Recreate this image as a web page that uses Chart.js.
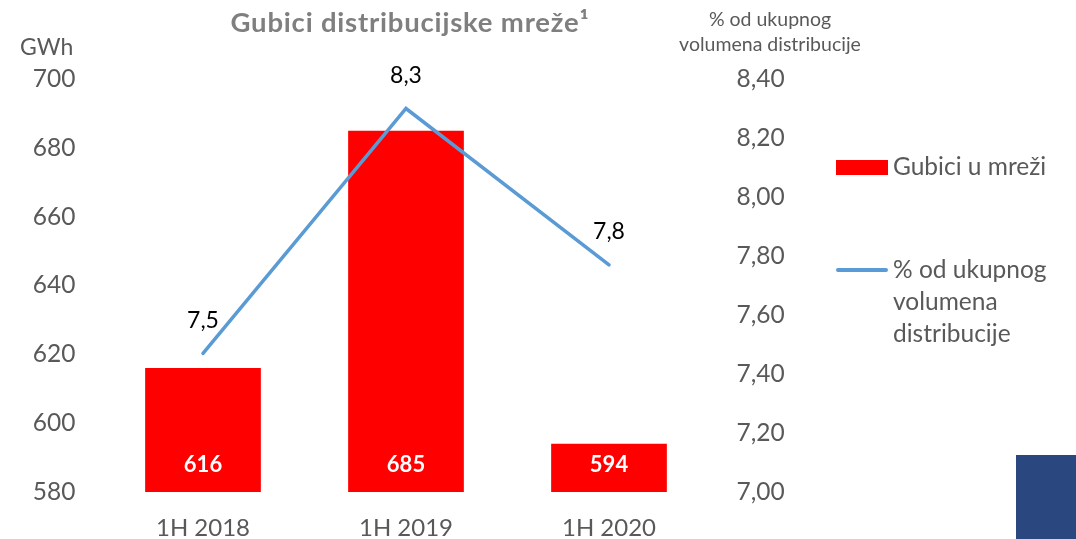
<!DOCTYPE html>
<html>
<head>
<meta charset="utf-8">
<script src="https://cdn.jsdelivr.net/npm/chart.js@4"></script>
<style>
  html, body { margin:0; padding:0; background:#fff; }
  #wrap { position:relative; width:1076px; height:539px; overflow:hidden; font-family: Lato, "Open Sans", sans-serif; }
  #c { position:absolute; left:0; top:0; }
  .t { position:absolute; white-space:nowrap; color:#595959; }
  #title { left:0; width:820px; top:5px; text-align:center; font-weight:bold; font-size:27.5px; letter-spacing:0.8px; color:#7f7f7f; }
  #gwh { left:20px; top:32px; font-size:23px; }
  #rtitle { left:660px; width:220px; top:6px; text-align:center; font-size:19.5px; line-height:25px; }
  #legend { position:absolute; left:836px; top:150px; font-size:24.5px; color:#595959; }
  .li { position:relative; padding-left:57px; line-height:32px; }
  .sw { position:absolute; left:0; }
  #deco { position:absolute; left:1016px; top:455px; width:60px; height:84px; background:#2a4780; }
</style>
</head>
<body>
<div id="wrap">
  <canvas id="c" width="1076" height="539"></canvas>
  <div class="t" id="title">Gubici distribucijske mreže¹</div>
  <div class="t" id="gwh">GWh</div>
  <div class="t" id="rtitle">% od ukupnog<br>volumena distribucije</div>
  <div id="legend">
    <div class="li" style="height:32px;"><span class="sw" style="top:10px;width:52px;height:15px;background:#ff0000;"></span>Gubici u mreži</div>
    <div class="li" style="margin-top:71px;"><span class="sw" style="top:15px;width:52px;height:4px;border-radius:2px;background:#5b9bd5;"></span>% od ukupnog<br>volumena<br>distribucije</div>
  </div>
  <div id="deco"></div>
</div>
<script>
const categories = ["1H 2018", "1H 2019", "1H 2020"];
const lossesGWh = [616, 685, 594];
const lossPercent = [7.47, 8.30, 7.77];
const leftTicks = [580, 600, 620, 640, 660, 680, 700];
const rightTicks = [7.0, 7.2, 7.4, 7.6, 7.8, 8.0, 8.2, 8.4];

const FONT = 'Lato, "Open Sans", sans-serif';
const GRAY = '#595959';

const labelPlugin = {
  id: 'valueLabels',
  afterDatasetsDraw(chart) {
    const ctx = chart.ctx;
    const yScale = chart.scales.y;
    ctx.save();
    ctx.textAlign = 'center';
    ctx.textBaseline = 'middle';
    // bar labels (inside, near base)
    const barMeta = chart.getDatasetMeta(0);
    const basePx = yScale.getPixelForValue(yScale.min);
    ctx.font = 'bold 22px ' + FONT;
    ctx.fillStyle = '#ffffff';
    barMeta.data.forEach((el, i) => {
      ctx.fillText(String(lossesGWh[i]), el.x, basePx - 27);
    });
    // line labels (above point)
    const lineMeta = chart.getDatasetMeta(1);
    ctx.font = '23px ' + FONT;
    ctx.fillStyle = '#000000';
    lineMeta.data.forEach((el, i) => {
      ctx.fillText(lossPercent[i].toFixed(1).replace('.', ','), el.x, el.y - 33);
    });
    ctx.restore();
  }
};

new Chart(document.getElementById('c'), {
  data: {
    labels: categories,
    datasets: [
      {
        type: 'bar',
        label: 'Gubici u mreži',
        data: lossesGWh,
        backgroundColor: '#ff0000',
        yAxisID: 'y',
        categoryPercentage: 1,
        barPercentage: 0.57,
        order: 2
      },
      {
        type: 'line',
        label: '% od ukupnog volumena distribucije',
        data: lossPercent,
        borderColor: '#5b9bd5',
        borderWidth: 3.5,
        pointRadius: 0,
        tension: 0,
        borderCapStyle: 'round',
        yAxisID: 'y1',
        order: 1
      }
    ]
  },
  options: {
    responsive: false,
    animation: false,
    layout: { padding: { top: 79, left: 0, right: 0, bottom: 0 } },
    plugins: { legend: { display: false }, tooltip: { enabled: false }, title: { display: false } },
    scales: {
      x: {
        grid: { display: false, drawTicks: false },
        border: { display: false },
        ticks: { color: GRAY, font: { family: FONT, size: 24 }, padding: 22 },
        afterFit(s) { s.height = 47; }
      },
      y: {
        position: 'left',
        min: 580, max: 700,
        grid: { display: false, drawTicks: false },
        border: { display: false },
        afterBuildTicks(s) { s.ticks = leftTicks.map(v => ({ value: v })); },
        ticks: { color: GRAY, font: { family: FONT, size: 24.5 }, padding: 26 },
        afterFit(s) { s.width = 101.5; }
      },
      y1: {
        position: 'right',
        min: 7.0, max: 8.4,
        grid: { display: false, drawTicks: false },
        border: { display: false },
        afterBuildTicks(s) { s.ticks = rightTicks.map(v => ({ value: v })); },
        ticks: {
          color: GRAY, font: { family: FONT, size: 24.5 }, padding: 26,
          callback: v => Number(v).toFixed(2).replace('.', ',')
        },
        afterFit(s) { s.width = 1076 - 710.5; }
      }
    }
  },
  plugins: [labelPlugin]
});
</script>
</body>
</html>
